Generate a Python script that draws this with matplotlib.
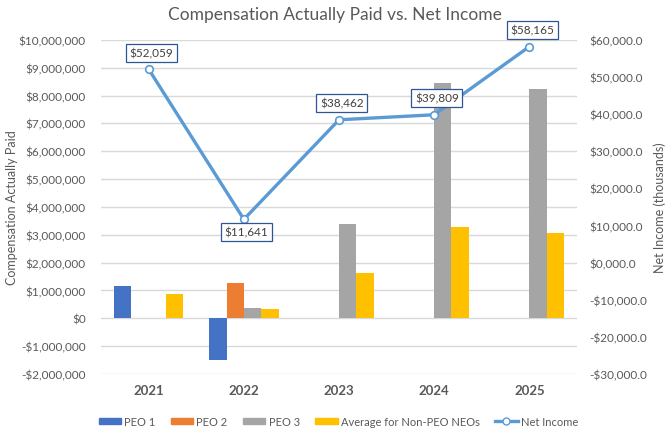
import numpy as np
import matplotlib.pyplot as plt
from matplotlib.ticker import FuncFormatter
from matplotlib.lines import Line2D
from matplotlib.patches import Patch

years = ['2021', '2022', '2023', '2024', '2025']
peo1 = [1150000, -1490000, 0, 0, 0]
peo2 = [0, 1270000, 0, 0, 0]
peo3 = [0, 360000, 3370000, 8460000, 8230000]
avg_neo = [860000, 320000, 1610000, 3260000, 3050000]
net_income = [52059, 11641, 38462, 39809, 58165]

plt.rcParams['font.family'] = ['Lato', 'DejaVu Sans']
grey = '#595959'

fig = plt.figure(figsize=(6.7, 4.39), dpi=100)
ax = fig.add_axes([0.151, 0.146, 0.71, 0.761])
ax2 = ax.twinx()

x = np.arange(len(years))
w = 0.182
series = [(peo1, '#4472C4', 'PEO 1'), (peo2, '#ED7D31', 'PEO 2'),
          (peo3, '#A5A5A5', 'PEO 3'), (avg_neo, '#FFC000', 'Average for Non-PEO NEOs')]
for i, (vals, col, lab) in enumerate(series):
    ax.bar(x + (i - 1.5) * w, vals, w, color=col, zorder=2)

ax.set_xlim(-0.5, len(years) - 0.5)
ax.set_ylim(-2000000, 10000000)
ax.set_yticks(np.arange(-2000000, 10000001, 1000000))
ax.yaxis.set_major_formatter(FuncFormatter(
    lambda v, p: ('-$' if v < 0 else '$') + f'{abs(v):,.0f}'))
ax.grid(axis='y', color='#D9D9D9', lw=1, zorder=0)
ax.set_axisbelow(True)
ax.set_xticks(x)
ax.set_xticklabels(years, fontweight='bold', fontsize=9.5, color=grey)
ax.tick_params(axis='x', length=0, pad=7)
ax.tick_params(axis='y', length=0, labelsize=8.5, colors=grey, pad=11)
ax.set_ylabel('Compensation Actually Paid', fontsize=9, color=grey)
ax.yaxis.set_label_coords(-0.174, 0.5)

ax2.plot(x, net_income, color='#5B9BD5', lw=2.4, marker='o', ms=5.5,
         mfc='white', mec='#5B9BD5', mew=1.2, zorder=5)
ax2.set_ylim(-30000, 60000)
ax2.set_yticks(np.arange(-30000, 60001, 10000))
ax2.yaxis.set_major_formatter(FuncFormatter(
    lambda v, p: ('-$' if v < 0 else '$') + (f'{abs(v):,.1f}' if v != 0 else '0,000.0')))
ax2.tick_params(axis='y', length=0, labelsize=8.5, colors=grey, pad=9)
ax2.set_ylabel('Net Income (thousands)', fontsize=9, color=grey)
ax2.yaxis.set_label_coords(1.162, 0.5)

for xi, v in zip(x, net_income):
    dy = -9 if v == 11641 else 12
    ax2.annotate(f'${v:,}', (xi, v), xytext=(2, dy), textcoords='offset points',
                 ha='center', va='center', fontsize=8.5, color='#404040', zorder=6,
                 bbox=dict(boxstyle='square,pad=0.3', fc='white', ec='#2F5597', lw=0.9))

for a in (ax, ax2):
    for s in a.spines.values():
        s.set_visible(False)

fig.suptitle('Compensation Actually Paid vs. Net Income', y=0.985, fontsize=12.5, color=grey)

handles = [Patch(color=c, label=l) for _, c, l in series]
handles.append(Line2D([0], [0], color='#5B9BD5', lw=2.4, marker='o', ms=5,
                      mfc='white', mec='#5B9BD5', label='Net Income'))
fig.legend(handles=handles, loc='center', bbox_to_anchor=(0.505, 0.038), ncol=5,
           frameon=False, fontsize=8, handlelength=2.0, handleheight=0.5,
           columnspacing=1.4, handletextpad=0.3, labelcolor=grey)

fig.savefig('out.png', dpi=100)
